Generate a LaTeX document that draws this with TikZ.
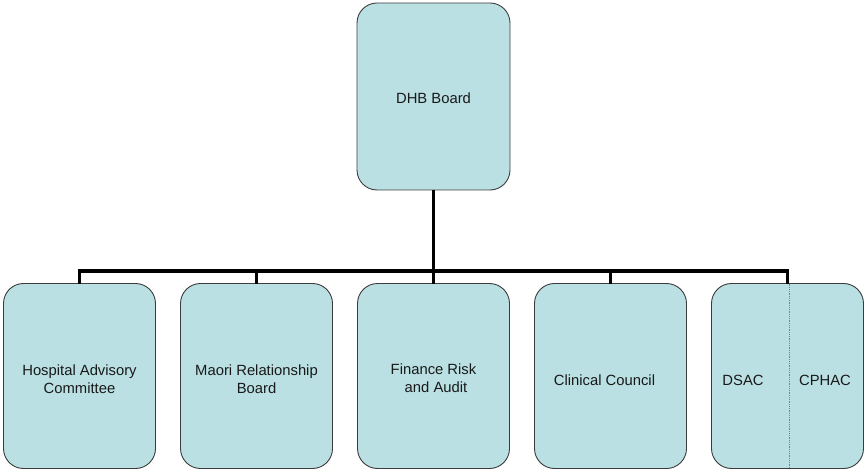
\documentclass[tikz,border=0pt]{standalone}
\usepackage{fontspec}
\setmainfont{Liberation Sans}
\definecolor{boxfill}{RGB}{186,224,227}
\definecolor{boxline}{RGB}{60,60,60}
\begin{document}
\begin{tikzpicture}[x=1pt,y=-1pt,
  orgbox/.style={draw=boxline,fill=boxfill,line width=0.9pt,rounded corners=20pt,
    minimum width=152pt,minimum height=185pt,inner sep=0pt,outer sep=0pt},
  orgtext/.style={font=\fontsize{14.8}{18}\selectfont,align=center,inner sep=0pt,text=black!90},
  link/.style={line width=3.2pt,black}]
\useasboundingbox (0,0) rectangle (864,470);

% governing board
\node[orgbox,minimum width=153pt,minimum height=187pt] (board) at (433.5,96.5) {};
\node[orgtext] (boardtxt) at (433.5,98) {DHB Board};

% committees
\node[orgbox] (hac) at (79.5,376) {};
\node[orgbox] (mrb) at (256.5,376) {};
\node[orgbox] (fra) at (433.5,376) {};
\node[orgbox] (cc)  at (610.5,376) {};
\node[orgbox] (dc)  at (787.5,376) {};

\node[orgtext] (hactxt) at (79.5,379) {Hospital Advisory\\Committee};
\node[orgtext] (mrbtxt) at (256.5,379) {Maori Relationship\\Board};
\node[orgtext] (fratxt) at (433.5,378) {Finance Risk\\\hspace*{5pt}and Audit};
\node[orgtext] (cctxt)  at (604.5,380) {Clinical Council};
\node[orgtext] (dsac)   at (743,380) {DSAC};
\node[orgtext] (cphac)  at (825,380) {CPHAC};

% divider inside the shared box
\draw[gray,densely dotted,line width=0.8pt] ([xshift=1.5pt]dc.north) -- ([xshift=1.5pt]dc.south);

% reporting lines
\coordinate (bar) at (433.5,271);
\draw[link] (hac.north) -- (hac.north |- bar) -- (dc.north |- bar) -- (dc.north);
\draw[link] (board.south) -- (fra.north);
\draw[link] (mrb.north) -- (mrb.north |- bar);
\draw[link] (cc.north) -- (cc.north |- bar);
\end{tikzpicture}
\end{document}
